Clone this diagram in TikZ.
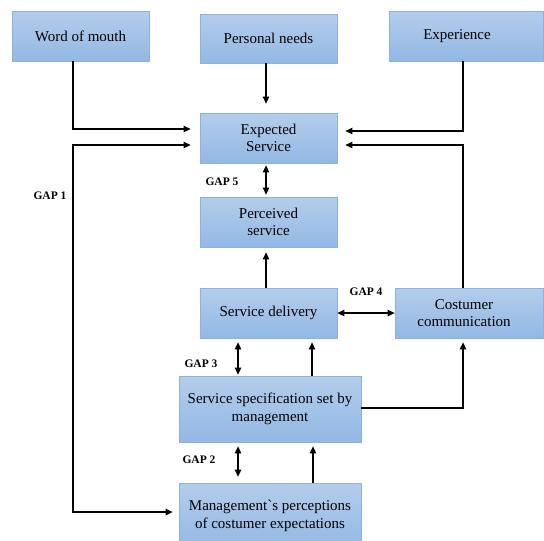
\documentclass[tikz,border=0pt]{standalone}
\usepackage{fontspec}
\setmainfont{Liberation Serif}
\usetikzlibrary{arrows.meta}
\definecolor{boxtop}{RGB}{180,205,235}
\definecolor{boxbot}{RGB}{146,184,228}
\definecolor{boxline}{RGB}{140,178,226}
\tikzset{
  box/.style={draw=boxline, line width=0.8pt, top color=boxtop, bottom color=boxbot,
    align=center, inner sep=0pt, font=\fontsize{15}{17.5}\selectfont},
  arr/.style={line width=1.3pt, -{Triangle[length=7pt,width=6.5pt]}},
  darr/.style={line width=1.3pt, {Triangle[length=7pt,width=6.5pt]}-{Triangle[length=7pt,width=6.5pt]}},
  gaplbl/.style={font=\fontsize{11.5}{13}\selectfont\bfseries, inner sep=0pt}
}
\newcommand{\plaingrave}{{\addfontfeatures{Ligatures=TeXOff}`}}
\begin{document}
\begin{tikzpicture}[x=1pt,y=-1pt]
\useasboundingbox (0,0) rectangle (544,541);
\begin{scope}
\clip (0,0) rectangle (544,541);
\node[box, minimum width=137pt, minimum height=50pt] (wom) at (80.5,36) {Word of mouth};
\node[box, minimum width=137pt, minimum height=49pt] (pn) at (268.5,38.5) {Personal needs};
\node[box, minimum width=154pt, minimum height=50pt] (exp) at (466,36) {Experience\hspace*{18pt}};
\node[box, minimum width=137pt, minimum height=50pt] (es) at (268.5,138) {Expected\\Service};
\node[box, minimum width=137pt, minimum height=50pt] (ps) at (268.5,222) {Perceived\\service};
\node[box, minimum width=137pt, minimum height=50pt] (sd) at (268.5,313) {Service delivery};
\node[box, minimum width=148pt, minimum height=50pt] (cc) at (469,313) {Costumer\hspace*{10pt}\\communication\hspace*{10pt}};
\node[box, minimum width=182pt, minimum height=66pt] (ss) at (270,409) {Service specification set by\\management};
\node[box, minimum width=182pt, minimum height=66pt] (mp) at (270,516) {Management\plaingrave s perceptions\\of costumer expectations};
\end{scope}
\coordinate (g1) at (73,300);
% connectors
\draw[arr] ([xshift=-7.5pt]wom.south) |- ([xshift=-9pt,yshift=9pt]es.west);
\draw[darr] ([xshift=-9pt,yshift=-7pt]es.west) -| (g1) |- ([xshift=-6pt,yshift=4pt]mp.west);
\draw[arr] ([xshift=-2.5pt]pn.south) -- ([xshift=-2.5pt,yshift=9pt]es.north);
\draw[arr] ([xshift=-3pt]exp.south) |- ([xshift=8pt,yshift=7pt]es.east);
\draw[arr] ([xshift=-6pt]cc.north) |- ([xshift=8pt,yshift=-7pt]es.east);
\draw[darr] ([xshift=-2.5pt,yshift=-2pt]es.south) -- ([xshift=-2.5pt,yshift=2pt]ps.north);
\draw[arr] ([xshift=-2.5pt]sd.north) -- ([xshift=-2.5pt,yshift=-5pt]ps.south);
\draw[darr] (sd.east) -- (cc.west);
\draw[darr] ([xshift=-30.5pt,yshift=-4pt]sd.south) -- ([xshift=-32pt,yshift=1pt]ss.north);
\draw[arr] ([xshift=42pt]ss.north) -- ([xshift=43.5pt,yshift=-4pt]sd.south);
\draw[arr] ([yshift=1pt]ss.east) -| ([xshift=-6pt,yshift=-4pt]cc.south);
\draw[darr] ([xshift=-32pt,yshift=-4pt]ss.south) -- ([xshift=-32pt,yshift=6pt]mp.north);
\draw[arr] ([xshift=43pt]mp.north) -- ([xshift=43pt,yshift=-4pt]ss.south);
% gap labels
\node[gaplbl] (gap1) at (50,196) {GAP 1};
\node[gaplbl] (gap5) at (222,182) {GAP 5};
\node[gaplbl] (gap4) at (366,292) {GAP 4};
\node[gaplbl] (gap3) at (201,364) {GAP 3};
\node[gaplbl] (gap2) at (199,460) {GAP 2};
\end{tikzpicture}
\end{document}
